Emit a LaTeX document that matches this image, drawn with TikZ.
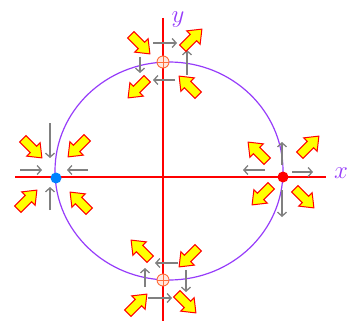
\documentclass[tikz,border=0pt]{standalone}
\usetikzlibrary{arrows.meta}
\definecolor{orbitc}{RGB}{150,60,250}
\definecolor{axisc}{RGB}{255,0,0}
\definecolor{flowc}{RGB}{128,128,128}
\definecolor{sinkc}{RGB}{0,130,255}
\definecolor{fatfill}{RGB}{255,255,0}
\definecolor{fatline}{RGB}{255,0,0}
\definecolor{saddlec}{RGB}{255,110,60}
\tikzset{
  axis/.style={draw=axisc, line width=1.3pt},
  orbit/.style={draw=orbitc, line width=1.2pt},
  flow/.style={draw=flowc, line width=1.3pt, -{Straight Barb[length=4pt,width=9pt]}},
  fatstyle/.style={fill=fatfill, draw=fatline, line width=1pt, line join=miter},
  fatarr/.pic={\path[fatstyle] (-13,-4.5) -- (2,-4.5) -- (2,-9.5) -- (14,0) -- (2,9.5) -- (2,4.5) -- (-13,4.5) -- cycle;},
  dotmark/.style={circle, inner sep=0pt, minimum size=11pt},
  hollow/.style={circle, draw=saddlec, fill=saddlec!15, line width=0.9pt, inner sep=0pt, minimum size=12pt,
    path picture={\draw[saddlec, line width=0.8pt] (path picture bounding box.north) -- (path picture bounding box.south)
      (path picture bounding box.west) -- (path picture bounding box.east);}},
  lbl/.style={text=orbitc, font=\fontsize{28}{28}\selectfont, inner sep=0pt}
}
\begin{document}
\begin{tikzpicture}[x=1pt,y=-1pt]
\useasboundingbox (0,0) rectangle (352,323);
% axes
\coordinate (xl) at (15,177);
\coordinate (xr) at (326,177);
\coordinate (yt) at (163,18);
\coordinate (yb) at (163,321);
\draw[axis] (xl) -- (xr);
\draw[axis] (yt) -- (yb);
% closed orbit
\draw[orbit] (169,171) ellipse [x radius=114, y radius=109];
% labels
\node[lbl] (xlab) at (341,173) {$x$};
\node[lbl] (ylab) at (178,20) {$y$};
% gray flow arrows: right point
\draw[flow] (265,170) -- (243,170);
\draw[flow] (292,172) -- (313,172);
\draw[flow] (282,165) -- (282,142);
\draw[flow] (282,190) -- (282,217);
% left point
\draw[flow] (20,170) -- (42,170);
\draw[flow] (88,170) -- (67,170);
\draw[flow] (50,123) -- (50,158);
\draw[flow] (50,210) -- (50,187);
% top point
\draw[flow] (153,43) -- (177,43);
\draw[flow] (175,80) -- (153,80);
\draw[flow] (140,57) -- (140,73);
\draw[flow] (187,75) -- (187,50);
% bottom point
\draw[flow] (178,263) -- (155,263);
\draw[flow] (186,270) -- (186,292);
\draw[flow] (145,287) -- (145,268);
\draw[flow] (148,298) -- (172,298);
% equilibrium points
\node[dotmark, fill=axisc] (src) at (283,177) {};
\node[dotmark, fill=sinkc] (snk) at (56,178) {};
\node[hollow] (ptop) at (163,62) {};
\node[hollow] (pbot) at (163,280) {};
% yellow arrows: right point (outward)
\pic[rotate=135] at (258,152) {fatarr};
\pic[rotate=45] at (309,146) {fatarr};
\pic[rotate=225] at (262,195) {fatarr};
\pic[rotate=-45] at (304,198) {fatarr};
% left point (inward)
\pic[rotate=-45] at (32,148) {fatarr};
\pic[rotate=225] at (78,147) {fatarr};
\pic[rotate=45] at (27,200) {fatarr};
\pic[rotate=135] at (80,202) {fatarr};
% top point
\pic[rotate=-45] at (140,44) {fatarr};
\pic[rotate=45] at (192,39) {fatarr};
\pic[rotate=225] at (138,88) {fatarr};
\pic[rotate=135] at (189,86) {fatarr};
% bottom point
\pic[rotate=135] at (141,250) {fatarr};
\pic[rotate=225] at (189,257) {fatarr};
\pic[rotate=45] at (137,304) {fatarr};
\pic[rotate=-45] at (186,303) {fatarr};
\end{tikzpicture}
\end{document}
